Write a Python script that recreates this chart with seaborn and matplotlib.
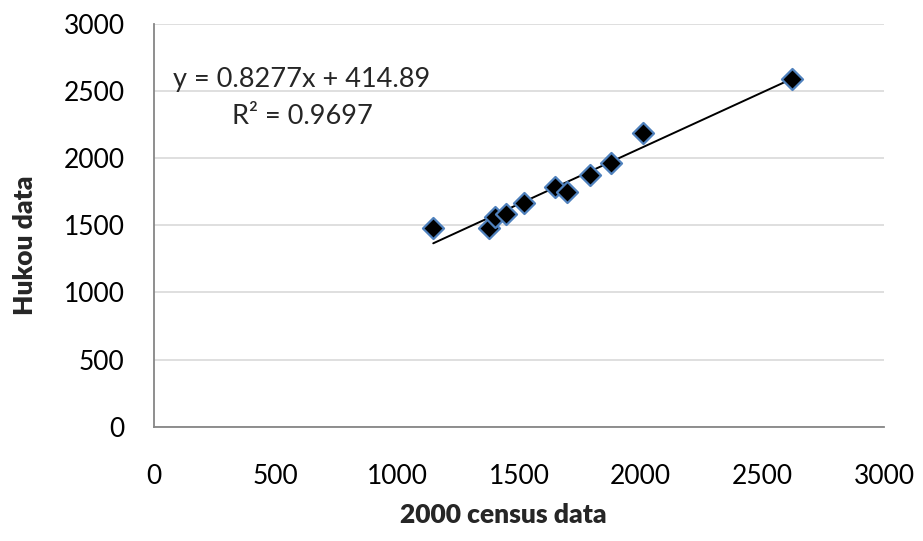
import matplotlib
matplotlib.use("Agg")
import matplotlib.pyplot as plt
import seaborn as sns
import numpy as np
import pandas as pd

# values
census_2000 = [1148, 1377, 1401, 1445, 1522, 1648, 1696, 1791, 1877, 2008, 2620]
hukou = [1482, 1482, 1564, 1584, 1668, 1783, 1745, 1876, 1966, 2189, 2587]
ticks = [0, 500, 1000, 1500, 2000, 2500, 3000]
eq_text = "y = 0.8277x + 414.89"
r2_text = "R\u00b2 = 0.9697"

df = pd.DataFrame({"census": census_2000, "hukou": hukou})

sns.set_theme(style="white")
plt.rcParams["font.family"] = ["Lato", "DejaVu Sans"]

axis_grey = "#868686"
fig = plt.figure(figsize=(9.23, 5.41), dpi=100)
ax = fig.add_axes([0.1665, 0.2113, 0.7915, 0.7449])

# trendline across the data range
sns.regplot(data=df, x="census", y="hukou", scatter=False, ci=None, truncate=True,
            line_kws={"color": "black", "linewidth": 1.4}, ax=ax)
sns.scatterplot(data=df, x="census", y="hukou", marker="D", s=115, color="black",
                edgecolor="#4F81BD", linewidth=1.6, zorder=5, ax=ax)

ax.set_xlim(0, 3000)
ax.set_ylim(0, 3000)
ax.set_xticks(ticks)
ax.set_yticks(ticks)
ax.yaxis.grid(True, color="#D9D9D9", linewidth=1.2)
ax.set_axisbelow(True)

for side in ["top", "right"]:
    ax.spines[side].set_visible(False)
for side in ["left", "bottom"]:
    ax.spines[side].set_color(axis_grey)
    ax.spines[side].set_linewidth(1.3)

ax.tick_params(axis="both", direction="out", length=7, width=1.3, color=axis_grey,
               labelsize=19, labelcolor="black")
ax.tick_params(axis="y", pad=14)
ax.tick_params(axis="x", pad=20)

ax.set_xlabel("2000 census data", fontsize=19, fontweight="heavy")
ax.set_ylabel("Hukou data", fontsize=19, fontweight="heavy")
ax.xaxis.set_label_coords(0.478, -0.219)
ax.xaxis.label.set_va("center")
ax.yaxis.set_label_coords(-0.176, 0.451)
ax.yaxis.label.set_va("center")

ax.text(0.026, 0.862, eq_text, transform=ax.transAxes, fontsize=19.5, va="center", ha="left")
ax.text(0.107, 0.770, r2_text, transform=ax.transAxes, fontsize=19.5, va="center", ha="left")

fig.savefig("out.png", dpi=100)
